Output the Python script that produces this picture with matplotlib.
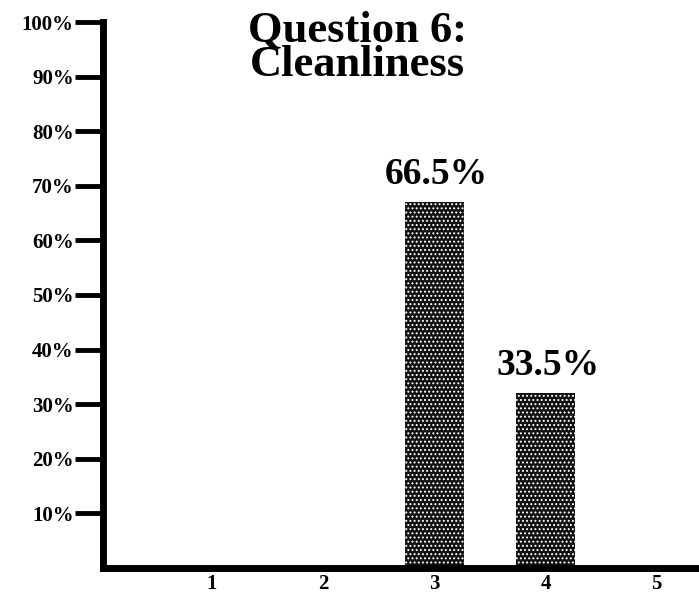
import matplotlib.pyplot as plt

# 資料
categories = [1, 2, 3, 4, 5]
heights = [0, 0, 67.0, 32.0, 0]          # 圖上量到的柱高
bar_labels = ["", "", "66.5%", "33.5%", ""]
y_ticks = [10, 20, 30, 40, 50, 60, 70, 80, 90, 100]
y_tick_labels = [f"{v}%" for v in y_ticks]
title = "Question 6:\nCleanliness"

plt.rcParams['font.family'] = ['Liberation Serif', 'DejaVu Serif']
plt.rcParams['hatch.linewidth'] = 0.9

fig = plt.figure(figsize=(6.99, 5.94), dpi=100)
W, H = 699, 594
# 軸框 (像素換算)
ax = fig.add_axes([103 / W, (H - 568) / H, (W - 103) / W, (568 - 22) / H])

ax.bar(categories, heights, width=0.53, color='#111111', edgecolor='white',
       linewidth=0, hatch='....', zorder=1)

for x, h, lab in zip(categories, heights, bar_labels):
    if lab:
        ax.text(x + 0.02, h + 1.8, lab, ha='center', va='bottom',
                fontsize=27, fontweight='bold')

ax.set_xlim(0.022, 5.38)
ax.set_ylim(0, 100)

for s in ['top', 'right']:
    ax.spines[s].set_visible(False)
for s in ['left', 'bottom']:
    ax.spines[s].set_linewidth(5)
    ax.spines[s].set_capstyle('projecting')
    ax.spines[s].set_zorder(3)

ax.set_yticks(y_ticks)
ax.set_yticklabels(y_tick_labels, fontsize=15, fontweight='bold')
ax.tick_params(axis='y', direction='out', length=20, width=3.5, pad=1)

ax.set_xticks(categories)
ax.set_xticklabels([str(c) for c in categories], fontsize=15, fontweight='bold')
ax.tick_params(axis='x', length=0, pad=4.5)

fig.text(357 / W, 1 - 11 / H, title, ha='center', va='top',
         fontsize=32, fontweight='bold', linespacing=0.82)

fig.savefig("out.png", dpi=100)
